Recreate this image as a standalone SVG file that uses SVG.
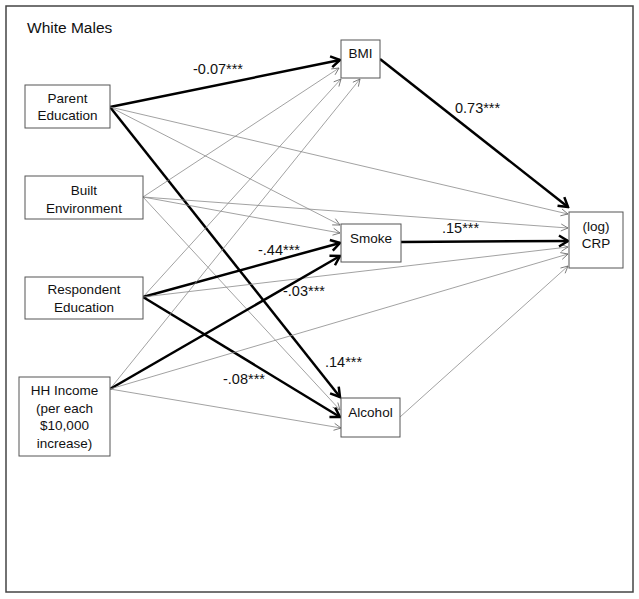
<svg xmlns="http://www.w3.org/2000/svg" width="639" height="599" viewBox="0 0 639 599">
<style>
.box{fill:#fff;stroke:#555;stroke-width:1}
.t{font-family:"Liberation Sans",Arial,sans-serif;font-size:13.5px;fill:#111;text-anchor:middle}
.lbl{font-family:"Liberation Sans",Arial,sans-serif;font-size:14.5px;fill:#111}
.thin{stroke:#8a8a8a;stroke-width:0.8;fill:none;marker-end:url(#ah)}
.thick{stroke:#000;stroke-width:2.5;fill:none;marker-end:url(#AH)}
</style>
<defs>
<marker id="ah" viewBox="-10 -6 12 12" refX="0" refY="0" markerWidth="12" markerHeight="12" markerUnits="userSpaceOnUse" orient="auto">
<path d="M-7,-3.5 L0,0 L-7,3.5" fill="none" stroke="#666" stroke-width="0.8"/>
</marker>
<marker id="AH" viewBox="-12 -8 14 16" refX="0" refY="0" markerWidth="14" markerHeight="16" markerUnits="userSpaceOnUse" orient="auto">
<path d="M-9,-5.5 L0,0 L-9,5.5" fill="none" stroke="#000" stroke-width="2.5"/>
</marker>
</defs>
<rect x="0" y="0" width="639" height="599" fill="#fff"/>
<rect x="6" y="6" width="627" height="586" fill="#fff" stroke="#444" stroke-width="1.5"/>
<text x="27" y="33" class="lbl" style="font-size:15.5px">White Males</text>
<g id="connectors">
<line class="thick" x1="110" y1="107" x2="340" y2="60"/>
<line class="thin" x1="110" y1="107" x2="340" y2="225"/>
<line class="thick" x1="110" y1="107" x2="340" y2="397"/>
<line class="thin" x1="110" y1="107" x2="568" y2="214"/>
<line class="thin" x1="143" y1="197" x2="339" y2="68"/>
<line class="thin" x1="143" y1="197" x2="340" y2="233"/>
<line class="thin" x1="143" y1="197" x2="340" y2="410"/>
<line class="thin" x1="143" y1="197" x2="568" y2="228"/>
<line class="thin" x1="143" y1="297" x2="341" y2="79"/>
<line class="thick" x1="143" y1="297" x2="340" y2="243"/>
<line class="thick" x1="143" y1="297" x2="340" y2="417"/>
<line class="thin" x1="143" y1="297" x2="568" y2="247"/>
<line class="thin" x1="110" y1="389" x2="360" y2="79"/>
<line class="thick" x1="110" y1="389" x2="340" y2="256"/>
<line class="thin" x1="110" y1="389" x2="341" y2="428"/>
<line class="thin" x1="110" y1="389" x2="568" y2="254"/>
<line class="thick" x1="380" y1="59" x2="568" y2="207"/>
<line class="thick" x1="401" y1="242" x2="568" y2="241"/>
<line class="thin" x1="400" y1="417" x2="568" y2="266"/>
<text x="193" y="74" class="lbl">-0.07***</text>
<text x="455" y="113" class="lbl">0.73***</text>
<text x="442" y="233" class="lbl">.15***</text>
<text x="258" y="255" class="lbl">-.44***</text>
<text x="283" y="296" class="lbl">-.03***</text>
<text x="325" y="367" class="lbl">.14***</text>
<text x="223" y="384" class="lbl">-.08***</text>
</g>
<g id="parent-education">
<rect class="box" x="25" y="85" width="85" height="43"/>
<text x="67.5" y="103" class="t">Parent</text>
<text x="67.5" y="120" class="t">Education</text>
</g>
<g id="built-environment">
<rect class="box" x="25" y="176" width="118" height="43"/>
<text x="84" y="195" class="t">Built</text>
<text x="84" y="213" class="t">Environment</text>
</g>
<g id="respondent-education">
<rect class="box" x="25" y="277" width="118" height="42"/>
<text x="84" y="294" class="t">Respondent</text>
<text x="84" y="312" class="t">Education</text>
</g>
<g id="hh-income">
<rect class="box" x="19" y="377" width="91" height="79"/>
<text x="64.5" y="395" class="t">HH Income</text>
<text x="64.5" y="412.5" class="t">(per each</text>
<text x="64.5" y="430" class="t">$10,000</text>
<text x="64.5" y="447.5" class="t">increase)</text>
</g>
<g id="bmi">
<rect class="box" x="341" y="40" width="39" height="38"/>
<text x="360.5" y="58" class="t">BMI</text>
</g>
<g id="smoke">
<rect class="box" x="341" y="224" width="60" height="38"/>
<text x="371" y="243" class="t">Smoke</text>
</g>
<g id="alcohol">
<rect class="box" x="341" y="398" width="59" height="39"/>
<text x="370.5" y="417" class="t">Alcohol</text>
</g>
<g id="crp">
<rect class="box" x="569" y="212" width="54" height="56"/>
<text x="596" y="231" class="t">(log)</text>
<text x="596" y="248" class="t">CRP</text>
</g>
</svg>
